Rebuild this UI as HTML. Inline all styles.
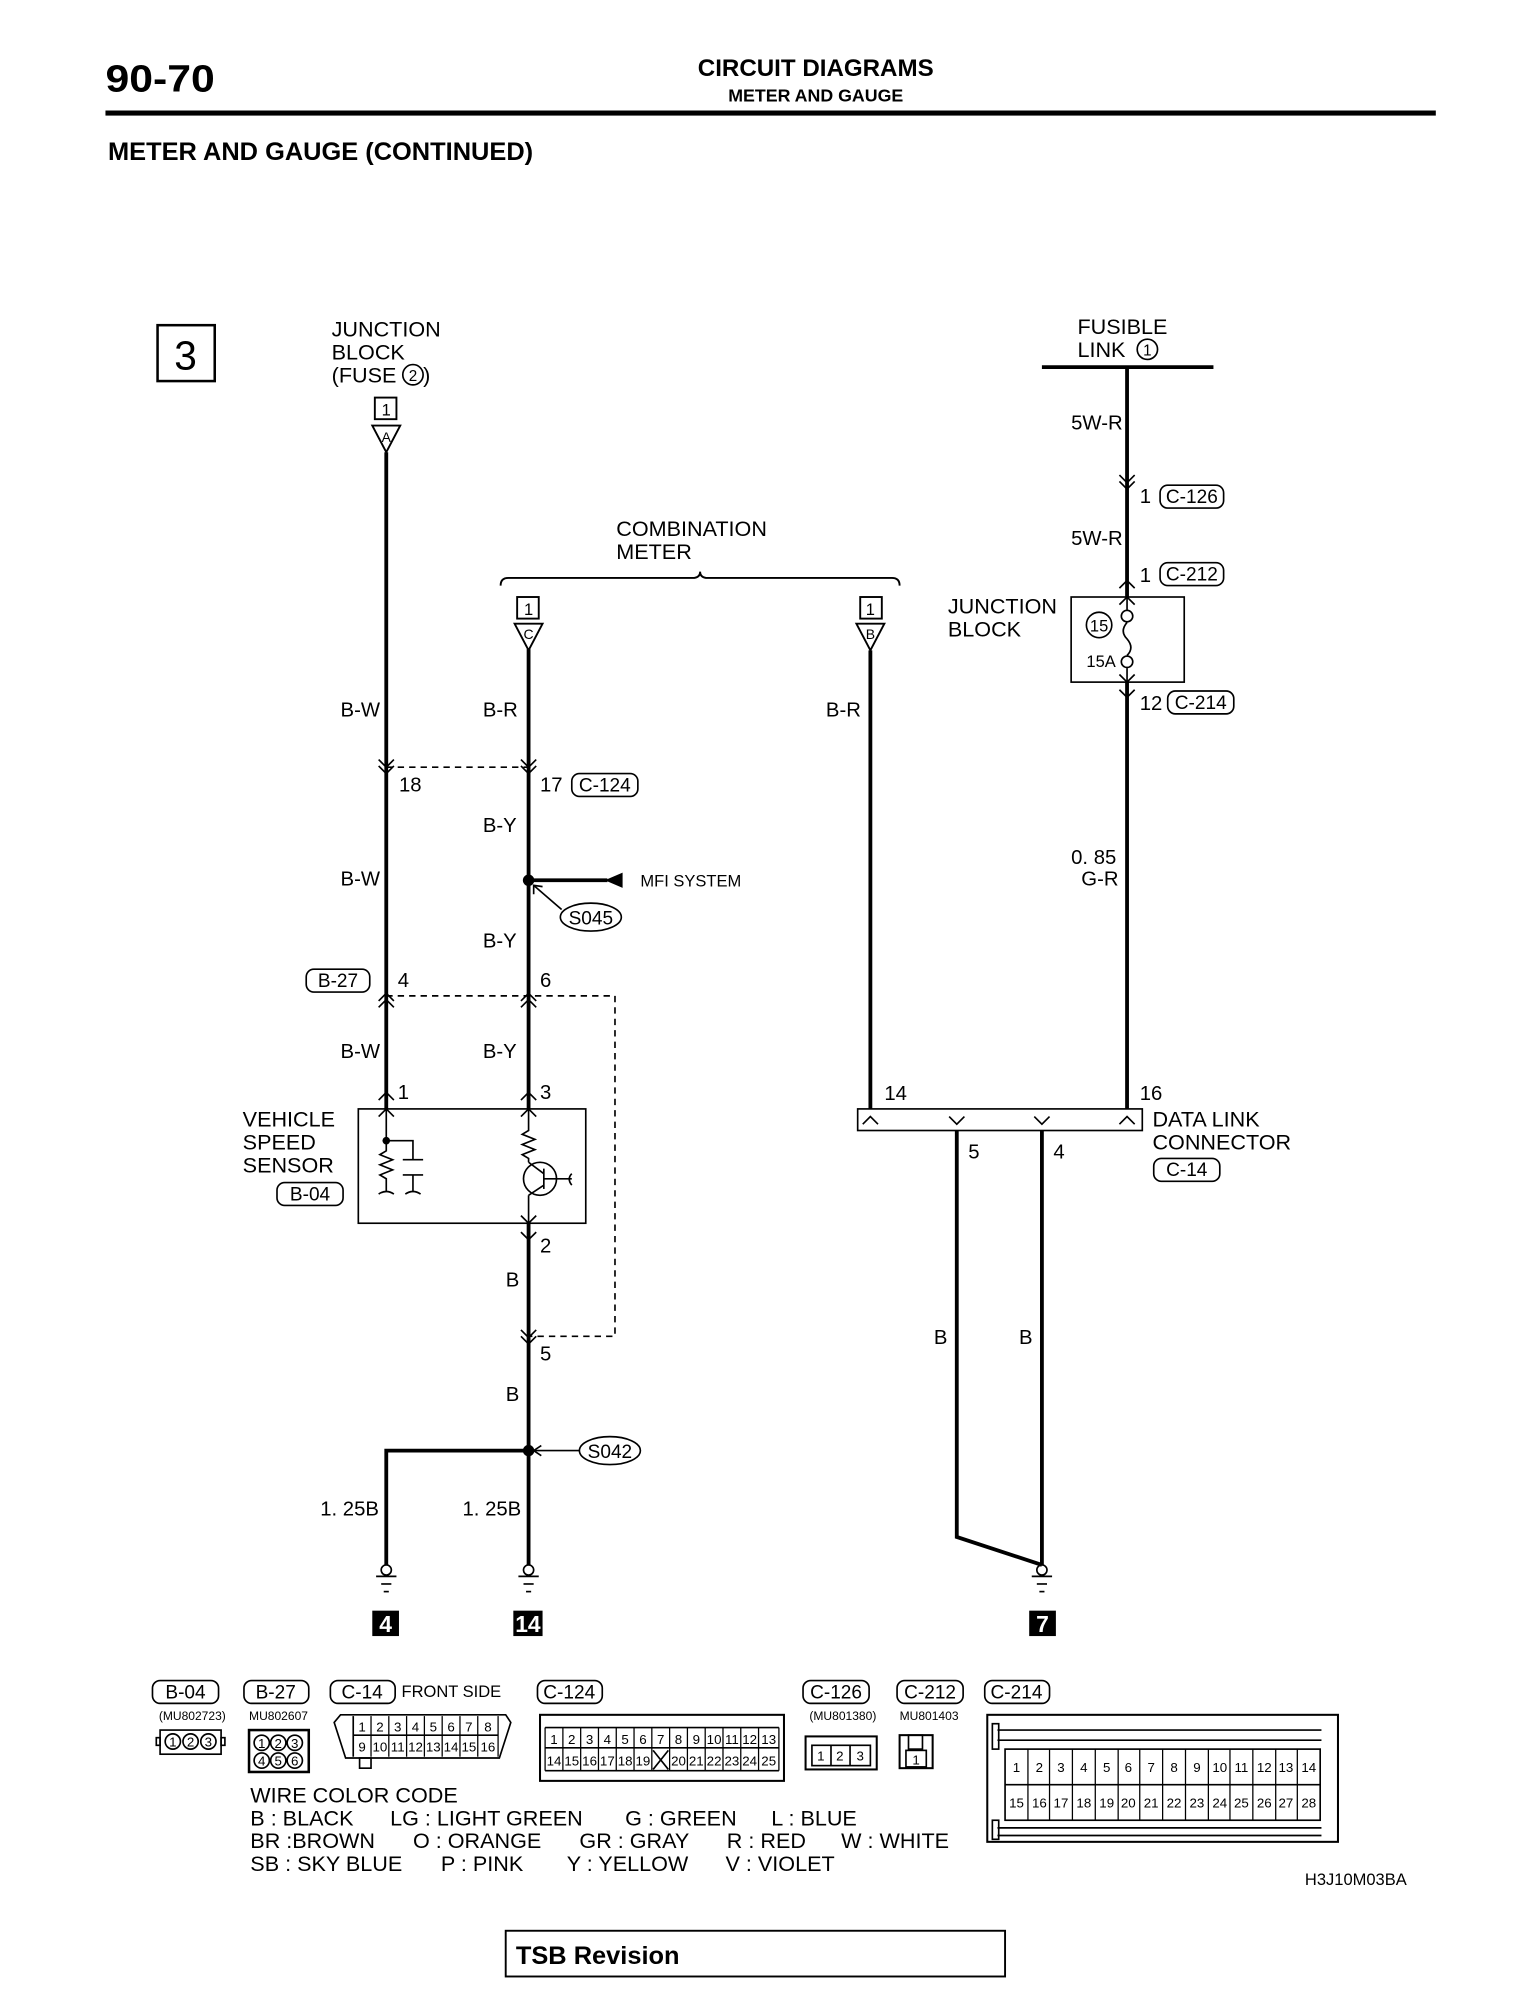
<!DOCTYPE html>
<html><head><meta charset="utf-8"><style>
html,body{margin:0;padding:0;background:#fff;}
svg{display:block;}
text{font-family:"Liberation Sans",sans-serif;fill:#000;}
.c{font-family:"Liberation Sans Narrow","Liberation Sans",sans-serif;}
</style></head><body>
<svg width="1540" height="1993" viewBox="0 0 1212 1569" preserveAspectRatio="none" xmlns="http://www.w3.org/2000/svg">
<rect width="1212" height="1569" fill="#fff"/>
<!-- header -->
<text x="83" y="72" font-size="30" font-weight="bold" textLength="86" lengthAdjust="spacingAndGlyphs">90-70</text>
<text x="642" y="60" font-size="19" font-weight="bold" text-anchor="middle">CIRCUIT DIAGRAMS</text>
<text x="642" y="80" font-size="14" font-weight="bold" text-anchor="middle">METER AND GAUGE</text>
<rect x="83" y="87" width="1047" height="4" fill="#000"/>
<text x="85" y="126" font-size="20" font-weight="bold">METER AND GAUGE (CONTINUED)</text>

<g stroke="#000" fill="none">
<rect x="124" y="256" width="45" height="44" stroke-width="2"/>
</g>
<text x="146" y="291" font-size="32" text-anchor="middle">3</text>

<g font-size="17">
<text x="261" y="265">JUNCTION</text>
<text x="261" y="283">BLOCK</text>
<text x="261" y="301">(FUSE</text><text x="333" y="301">)</text>
<text x="848" y="263">FUSIBLE</text>
<text x="848" y="281">LINK</text>
<text x="485" y="422">COMBINATION</text>
<text x="485" y="440">METER</text>
<text x="746" y="483">JUNCTION</text>
<text x="746" y="501">BLOCK</text>
<text x="191" y="887">VEHICLE</text>
<text x="191" y="905">SPEED</text>
<text x="191" y="923">SENSOR</text>
<text x="907" y="887">DATA LINK</text>
<text x="907" y="905">CONNECTOR</text>
</g>
<g stroke="#000" fill="none" stroke-width="1.3">
<circle cx="325" cy="295" r="8"/><circle cx="903" cy="275" r="8"/>
</g>
<text x="325" y="300" font-size="12" text-anchor="middle">2</text>
<text x="903" y="280" font-size="12" text-anchor="middle">1</text>

<!-- main wires -->
<g stroke="#000" fill="none" stroke-width="3">
<line x1="304" y1="356" x2="304" y2="873"/>
<line x1="416" y1="511" x2="416" y2="873"/>
<line x1="416" y1="963" x2="416" y2="1232"/>
<polyline points="304,1232 304,1142 416,1142"/>
<line x1="685" y1="512" x2="685" y2="873"/>
<line x1="820" y1="289" x2="955" y2="289"/>
<line x1="887" y1="289" x2="887" y2="470"/>
<line x1="887" y1="537" x2="887" y2="873"/>
<polyline points="753,890 753,1210 820,1232"/>
<line x1="820" y1="890" x2="820" y2="1232"/>
<line x1="416" y1="693" x2="478" y2="693"/>
</g>
<polygon points="476,693 490,687 490,699" fill="#000"/>
<circle cx="416" cy="693" r="4.5" fill="#000"/>
<circle cx="416" cy="1142" r="4.5" fill="#000"/>
<text x="504" y="698" font-size="13">MFI SYSTEM</text>

<!-- connectors top -->
<g stroke="#000" fill="none" stroke-width="1.5">
<rect x="295" y="313" width="17" height="17"/>
<polygon points="293,335 315,335 304,356"/>
<rect x="407" y="470" width="17" height="17"/>
<polygon points="405,491 427,491 416,512"/>
<rect x="677" y="470" width="17" height="17"/>
<polygon points="674,491 696,491 685,512"/>
<path d="M394,461 Q394,455 400,455 L545,455 Q551,455 551,450 Q551,455 557,455 L702,455 Q708,455 708,461"/>
</g>
<g font-size="13" text-anchor="middle" class="c">
<text x="304" y="327">1</text><text x="304" y="348" font-size="11">A</text>
<text x="416" y="484">1</text><text x="416" y="503" font-size="11">C</text>
<text x="685" y="484">1</text><text x="685" y="503" font-size="11">B</text>
</g>

<!-- dashed -->
<g stroke="#000" fill="none" stroke-width="1.3" stroke-dasharray="5,4">
<line x1="304" y1="604" x2="416" y2="604"/>
<polyline points="304,784 484,784 484,1052 416,1052"/>
</g>

<!-- chevrons -->
<g stroke="#000" fill="none" stroke-width="1.3">
<path d="M298,598 L304,604 L310,598 M298,603 L304,609 L310,603"/>
<path d="M410,598 L416,604 L422,598 M410,603 L416,609 L422,603"/>
<path d="M881,374 L887,380 L893,374 M881,379 L887,385 L893,379"/>
<path d="M410,1047 L416,1053 L422,1047 M410,1052 L416,1058 L422,1052"/>
<path d="M298,788 L304,782 L310,788 M298,793 L304,787 L310,793"/>
<path d="M410,788 L416,782 L422,788 M410,793 L416,787 L422,793"/>
<path d="M881,463 L887,457 L893,463 M881,476 L887,470 L893,476"/>
<path d="M881,531 L887,537 L893,531 M881,543 L887,549 L893,543"/>
<path d="M298,866 L304,860 L310,866 M298,879 L304,873 L310,879"/>
<path d="M410,866 L416,860 L422,866 M410,879 L416,873 L422,879"/>
<path d="M410,957 L416,963 L422,957 M410,970 L416,976 L422,970"/>
<path d="M679,885 L685,879 L691,885 M881,885 L887,879 L893,885"/>
<path d="M747,879 L753,885 L759,879 M814,879 L820,885 L826,879"/>
</g>

<!-- wire labels -->
<g font-size="16" class="c">
<text x="268" y="564">B-W</text><text x="268" y="697">B-W</text><text x="268" y="833">B-W</text>
<text x="380" y="564">B-R</text><text x="380" y="655">B-Y</text><text x="380" y="746">B-Y</text><text x="380" y="833">B-Y</text>
<text x="650" y="564">B-R</text>
<text x="398" y="1013">B</text><text x="398" y="1103">B</text>
<text x="252" y="1193">1. 25B</text><text x="364" y="1193">1. 25B</text>
<text x="735" y="1058">B</text><text x="802" y="1058">B</text>
<text x="843" y="338">5W-R</text><text x="843" y="429">5W-R</text>
<text x="843" y="680">0. 85</text><text x="851" y="697">G-R</text>
<text x="314" y="623">18</text><text x="425" y="623">17</text>
<text x="313" y="777">4</text><text x="425" y="777">6</text>
<text x="313" y="865">1</text><text x="425" y="865">3</text>
<text x="425" y="986">2</text><text x="425" y="1071">5</text>
<text x="696" y="866">14</text><text x="897" y="866">16</text>
<text x="762" y="912">5</text><text x="829" y="912">4</text>
<text x="897" y="396">1</text><text x="897" y="458">1</text><text x="897" y="559">12</text>
</g>

<!-- pills -->
<g stroke="#000" fill="none" stroke-width="1.3">
<rect x="450" y="609" width="52" height="18" rx="6"/>
<rect x="241" y="763" width="50" height="18" rx="6"/>
<rect x="218" y="931" width="52" height="18" rx="6"/>
<rect x="913" y="382" width="50" height="18" rx="6"/>
<rect x="913" y="443" width="50" height="18" rx="6"/>
<rect x="919" y="544" width="52" height="18" rx="6"/>
<rect x="908" y="912" width="52" height="18" rx="6"/>
<ellipse cx="465" cy="722" rx="24" ry="11"/>
<ellipse cx="480" cy="1142" rx="24" ry="11"/>
<line x1="442" y1="716" x2="420" y2="697"/>
<line x1="456" y1="1142" x2="420" y2="1142"/>
<path d="M420,704 L420,697 L427,698 M426,1138 L420,1142 L426,1146"/>
</g>
<g font-size="15" text-anchor="middle" class="c">
<text x="476" y="623">C-124</text><text x="266" y="777">B-27</text><text x="244" y="945">B-04</text>
<text x="938" y="396">C-126</text><text x="938" y="457">C-212</text><text x="945" y="558">C-214</text>
<text x="934" y="926">C-14</text>
<text x="465" y="728">S045</text><text x="480" y="1148">S042</text>
</g>

<!-- sensor box -->
<g stroke="#000" fill="none" stroke-width="1.3">
<rect x="282" y="873" width="179" height="90"/>
<polyline points="304,873 304,898 325,898 325,913"/>
<path d="M304,898 L304,906 L299,909 L309,913 L299,917 L309,921 L299,925 L304,928 L304,938"/>
<line x1="317" y1="913" x2="333" y2="913"/><line x1="317" y1="925" x2="333" y2="925"/>
<line x1="325" y1="925" x2="325" y2="938"/>
<path d="M298,940 Q304,936 310,940 M319,940 Q325,936 331,940"/>
<path d="M416,873 L416,890 L411,893 L421,897 L411,901 L421,905 L411,909 L416,912 L416,915"/>
<circle cx="425" cy="928" r="13"/>
<line x1="416" y1="915" x2="428" y2="924"/>
<line x1="416" y1="941" x2="428" y2="933"/>
<line x1="428" y1="920" x2="428" y2="936"/>
<line x1="416" y1="941" x2="416" y2="963"/>
<line x1="428" y1="928" x2="450" y2="928"/>
<path d="M450,924 Q446,928 450,933"/>
</g>
<circle cx="304" cy="898" r="3" fill="#000"/>

<!-- junction block right -->
<g stroke="#000" fill="none" stroke-width="1.3">
<rect x="843" y="470" width="89" height="67"/>
<line x1="887" y1="470" x2="887" y2="480"/>
<circle cx="887" cy="485" r="4.5"/>
<path d="M887,490 Q881,497 887,503 Q893,510 887,516"/>
<circle cx="887" cy="521" r="4.5"/>
<line x1="887" y1="526" x2="887" y2="537"/>
<circle cx="865" cy="492" r="10"/>
<rect x="675" y="873" width="224" height="17"/>
</g>
<text x="865" y="497" font-size="13" text-anchor="middle" class="c">15</text>
<text x="855" y="525" font-size="13" class="c">15A</text>

<!-- grounds -->
<g stroke="#000" fill="none" stroke-width="1.3">
<circle cx="304" cy="1236" r="4"/><line x1="296" y1="1241" x2="312" y2="1241"/><line x1="300" y1="1247" x2="308" y2="1247"/><line x1="302" y1="1253" x2="306" y2="1253"/>
<circle cx="416" cy="1236" r="4"/><line x1="408" y1="1241" x2="424" y2="1241"/><line x1="412" y1="1247" x2="420" y2="1247"/><line x1="414" y1="1253" x2="418" y2="1253"/>
<circle cx="820" cy="1236" r="4"/><line x1="812" y1="1241" x2="828" y2="1241"/><line x1="816" y1="1247" x2="824" y2="1247"/><line x1="818" y1="1253" x2="822" y2="1253"/>
</g>
<rect x="293" y="1268" width="21" height="20" fill="#000"/>
<rect x="404" y="1268" width="23" height="20" fill="#000"/>
<rect x="810" y="1268" width="21" height="20" fill="#000"/>
<g font-size="18" font-weight="bold" text-anchor="middle">
<text x="303.5" y="1285" style="fill:#fff">4</text><text x="415.5" y="1285" style="fill:#fff">14</text><text x="820.5" y="1285" style="fill:#fff">7</text>
</g>

<!-- bottom connectors -->
<g stroke="#000" fill="none" stroke-width="1.3">
<rect x="120" y="1323" width="52" height="18" rx="6"/>
<rect x="192" y="1323" width="51" height="18" rx="6"/>
<rect x="260" y="1323" width="51" height="18" rx="6"/>
<rect x="423" y="1323" width="51" height="18" rx="6"/>
<rect x="632" y="1323" width="52" height="18" rx="6"/>
<rect x="706" y="1323" width="52" height="18" rx="6"/>
<rect x="775" y="1323" width="51" height="18" rx="6"/>
</g>
<g font-size="15" text-anchor="middle" class="c">
<text x="146" y="1337">B-04</text><text x="217" y="1337">B-27</text><text x="285" y="1337">C-14</text>
<text x="448" y="1337">C-124</text><text x="658" y="1337">C-126</text><text x="732" y="1337">C-212</text><text x="800" y="1337">C-214</text>
</g>
<text x="316" y="1336" font-size="13">FRONT SIDE</text>
<g font-size="9.5" class="c">
<text x="125" y="1354">(MU802723)</text><text x="196" y="1354">MU802607</text>
<text x="637" y="1354">(MU801380)</text><text x="708" y="1354">MU801403</text>
</g>
<g stroke="#000" fill="none" stroke-width="1.3">
<rect x="126" y="1362" width="48" height="19"/><rect x="123" y="1368" width="3" height="6"/><rect x="174" y="1368" width="3" height="6"/>
<circle cx="136" cy="1371" r="6"/><circle cx="150" cy="1371" r="6"/><circle cx="164" cy="1371" r="6"/>
<rect x="196" y="1362" width="47" height="33" stroke-width="2"/>
<circle cx="206" cy="1372" r="6"/><circle cx="219" cy="1372" r="6"/><circle cx="232" cy="1372" r="6"/>
<circle cx="206" cy="1386" r="6"/><circle cx="219" cy="1386" r="6"/><circle cx="232" cy="1386" r="6"/>
<path d="M268,1350 L398,1350 L402,1356 L393,1384 L272,1384 L263,1356 Z"/>
<line x1="278" y1="1351" x2="278" y2="1383"/><line x1="278" y1="1366" x2="392" y2="1366"/>
<rect x="283" y="1384" width="9" height="8"/>
<rect x="425" y="1350" width="192" height="52" stroke-width="1.6"/>
<line x1="429" y1="1376" x2="613" y2="1376"/><line x1="429" y1="1360" x2="613" y2="1360"/><line x1="429" y1="1394" x2="613" y2="1394"/>
<line x1="514" y1="1378" x2="526" y2="1393"/><line x1="526" y1="1378" x2="514" y2="1393"/>
<rect x="634" y="1367" width="56" height="26" stroke-width="1.6"/><rect x="639" y="1374" width="46" height="16"/>
<line x1="654" y1="1374" x2="654" y2="1390"/><line x1="669" y1="1374" x2="669" y2="1390"/>
<rect x="708" y="1366" width="26" height="26" stroke-width="1.6"/><rect x="713" y="1378" width="16" height="13"/><rect x="715" y="1366" width="11" height="11"/>
<rect x="777" y="1350" width="276" height="100" stroke-width="1.6"/>
<rect x="791" y="1377" width="248" height="56"/>
<line x1="791" y1="1405" x2="1039" y2="1405"/>
<line x1="785" y1="1362" x2="1040" y2="1362"/><line x1="785" y1="1370" x2="1040" y2="1370"/>
<line x1="785" y1="1439" x2="1040" y2="1439"/><line x1="785" y1="1445" x2="1040" y2="1445"/>
<rect x="781" y="1357" width="5" height="20"/><rect x="781" y="1433" width="5" height="15"/>
</g>
<g stroke="#000" stroke-width="1">
<line x1="292" y1="1351" x2="292" y2="1383"/><line x1="306" y1="1351" x2="306" y2="1383"/><line x1="320" y1="1351" x2="320" y2="1383"/><line x1="334" y1="1351" x2="334" y2="1383"/><line x1="348" y1="1351" x2="348" y2="1383"/><line x1="362" y1="1351" x2="362" y2="1383"/><line x1="376" y1="1351" x2="376" y2="1383"/><line x1="392" y1="1351" x2="392" y2="1383"/>
<line x1="443" y1="1360" x2="443" y2="1394"/><line x1="457" y1="1360" x2="457" y2="1394"/><line x1="471" y1="1360" x2="471" y2="1394"/><line x1="485" y1="1360" x2="485" y2="1394"/><line x1="499" y1="1360" x2="499" y2="1394"/><line x1="513" y1="1360" x2="513" y2="1394"/><line x1="527" y1="1360" x2="527" y2="1394"/><line x1="541" y1="1360" x2="541" y2="1394"/><line x1="555" y1="1360" x2="555" y2="1394"/><line x1="569" y1="1360" x2="569" y2="1394"/><line x1="583" y1="1360" x2="583" y2="1394"/><line x1="597" y1="1360" x2="597" y2="1394"/><line x1="429" y1="1360" x2="429" y2="1394"/><line x1="613" y1="1360" x2="613" y2="1394"/>
<line x1="809" y1="1377" x2="809" y2="1433"/><line x1="826" y1="1377" x2="826" y2="1433"/><line x1="844" y1="1377" x2="844" y2="1433"/><line x1="862" y1="1377" x2="862" y2="1433"/><line x1="880" y1="1377" x2="880" y2="1433"/><line x1="897" y1="1377" x2="897" y2="1433"/><line x1="915" y1="1377" x2="915" y2="1433"/><line x1="933" y1="1377" x2="933" y2="1433"/><line x1="951" y1="1377" x2="951" y2="1433"/><line x1="968" y1="1377" x2="968" y2="1433"/><line x1="986" y1="1377" x2="986" y2="1433"/><line x1="1004" y1="1377" x2="1004" y2="1433"/><line x1="1021" y1="1377" x2="1021" y2="1433"/>
</g>
<g font-size="10.5" text-anchor="middle" class="c">
<text x="136" y="1375">1</text><text x="150" y="1375">2</text><text x="164" y="1375">3</text>
<text x="206" y="1376">1</text><text x="219" y="1376">2</text><text x="232" y="1376">3</text>
<text x="206" y="1390">4</text><text x="219" y="1390">5</text><text x="232" y="1390">6</text>
<text x="285" y="1363">1</text><text x="299" y="1363">2</text><text x="313" y="1363">3</text><text x="327" y="1363">4</text><text x="341" y="1363">5</text><text x="355" y="1363">6</text><text x="369" y="1363">7</text><text x="384" y="1363">8</text>
<text x="285" y="1379">9</text><text x="299" y="1379">10</text><text x="313" y="1379">11</text><text x="327" y="1379">12</text><text x="341" y="1379">13</text><text x="355" y="1379">14</text><text x="369" y="1379">15</text><text x="384" y="1379">16</text>
<text x="436" y="1373">1</text><text x="450" y="1373">2</text><text x="464" y="1373">3</text><text x="478" y="1373">4</text><text x="492" y="1373">5</text><text x="506" y="1373">6</text><text x="520" y="1373">7</text><text x="534" y="1373">8</text><text x="548" y="1373">9</text><text x="562" y="1373">10</text><text x="576" y="1373">11</text><text x="590" y="1373">12</text><text x="605" y="1373">13</text>
<text x="436" y="1390">14</text><text x="450" y="1390">15</text><text x="464" y="1390">16</text><text x="478" y="1390">17</text><text x="492" y="1390">18</text><text x="506" y="1390">19</text><text x="534" y="1390">20</text><text x="548" y="1390">21</text><text x="562" y="1390">22</text><text x="576" y="1390">23</text><text x="590" y="1390">24</text><text x="605" y="1390">25</text>
<text x="646" y="1386">1</text><text x="661" y="1386">2</text><text x="677" y="1386">3</text>
<text x="721" y="1389">1</text>
<text x="800" y="1395">1</text><text x="818" y="1395">2</text><text x="835" y="1395">3</text><text x="853" y="1395">4</text><text x="871" y="1395">5</text><text x="888" y="1395">6</text><text x="906" y="1395">7</text><text x="924" y="1395">8</text><text x="942" y="1395">9</text><text x="960" y="1395">10</text><text x="977" y="1395">11</text><text x="995" y="1395">12</text><text x="1012" y="1395">13</text><text x="1030" y="1395">14</text>
<text x="800" y="1423">15</text><text x="818" y="1423">16</text><text x="835" y="1423">17</text><text x="853" y="1423">18</text><text x="871" y="1423">19</text><text x="888" y="1423">20</text><text x="906" y="1423">21</text><text x="924" y="1423">22</text><text x="942" y="1423">23</text><text x="960" y="1423">24</text><text x="977" y="1423">25</text><text x="995" y="1423">26</text><text x="1012" y="1423">27</text><text x="1030" y="1423">28</text>
</g>

<g font-size="17">
<text x="197" y="1419">WIRE COLOR CODE</text>
<text x="197" y="1437">B : BLACK</text><text x="307" y="1437">LG : LIGHT GREEN</text><text x="492" y="1437">G : GREEN</text><text x="607" y="1437">L : BLUE</text>
<text x="197" y="1455">BR :BROWN</text><text x="325" y="1455">O : ORANGE</text><text x="456" y="1455">GR : GRAY</text><text x="572" y="1455">R : RED</text><text x="662" y="1455">W : WHITE</text>
<text x="197" y="1473">SB : SKY BLUE</text><text x="347" y="1473">P : PINK</text><text x="446" y="1473">Y : YELLOW</text><text x="571" y="1473">V : VIOLET</text>
</g>
<text x="1027" y="1484" font-size="13" class="c">H3J10M03BA</text>

<rect x="398" y="1520" width="393" height="36" fill="none" stroke="#000" stroke-width="1.5"/>
<text x="406" y="1546" font-size="20" font-weight="bold">TSB Revision</text>
</svg>
</body></html>
